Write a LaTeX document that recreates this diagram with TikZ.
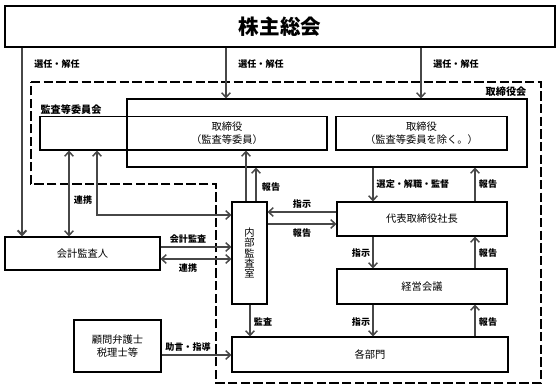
\documentclass[tikz,border=0pt]{standalone}
\usepackage{fontspec}
\setmainfont{Noto Sans CJK JP}
\usetikzlibrary{arrows.meta,calc}
\colorlet{orgLine}{black!72}
\colorlet{orgFrame}{black}
\tikzset{
  orgbox/.style={
    rectangle, draw=orgFrame, line width=0.8pt,
    inner sep=0pt, align=center, font=\fontsize{7.7}{9.6}\selectfont
  },
  orgarrow/.style={-{Straight Barb[length=3.5pt,width=6.5pt]}, line width=1.1pt, draw=orgLine},
  orgboth/.style={{Straight Barb[length=3.5pt,width=6.5pt]}-{Straight Barb[length=3.5pt,width=6.5pt]},
    line width=1.1pt, draw=orgLine},
  orgdash/.style={draw=black, line width=0.8pt, dash pattern=on 7pt off 2.5pt},
  orglabel/.style={font=\fontsize{6.8}{8}\selectfont\bfseries, inner sep=1pt},
  orggroup/.style={font=\fontsize{7.6}{9}\selectfont\bfseries, inner sep=1pt}
}

\begin{document}
\begin{tikzpicture}[x=0.75pt,y=-0.75pt]
  \useasboundingbox (0,0) rectangle (556,385);

  % board of directors frame
  \draw[orgdash] (31,82) -- (541,82) -- (541,383) -- (216,383) -- (216,184) -- (31,184) -- cycle;

  \node[orgbox, minimum width=412.5pt, minimum height=30.75pt,
    font=\fontsize{15.4}{18}\selectfont\bfseries] (soukai) at (280,26.5) {株主総会};
  \node[orgbox, minimum width=300pt, minimum height=51pt] (board) at (327,133) {};
  \node[orgbox, minimum width=215.25pt, minimum height=25.1pt] (kansa) at (183.5,133.25) {};
  \node[orgbox, minimum width=128.25pt, minimum height=25.1pt] (jogai) at (421.5,133.25)
    {取締役\\（監査等委員を除く。）};
  \node[align=center, font=\fontsize{7.7}{9.6}\selectfont] (kansatext) at (227,133.25)
    {取締役\\（監査等委員）};
  \node[orgbox, minimum width=116.25pt, minimum height=24.75pt] (kaikei) at (82.5,253.5) {会計監査人};
  \node[orgbox, minimum width=26.25pt, minimum height=76.5pt,
    font=\fontsize{7.7}{7.8}\selectfont] (naibu) at (249.5,253) {内\\部\\監\\査\\室};
  \node[orgbox, minimum width=127.5pt, minimum height=25.5pt] (shacho) at (422,219) {代表取締役社長};
  \node[orgbox, minimum width=127.5pt, minimum height=26.25pt] (keiei) at (422,286.5) {経営会議};
  \node[orgbox, minimum width=207pt, minimum height=26.25pt] (bumon) at (370,354.5) {各部門};
  \node[orgbox, minimum width=65.25pt, minimum height=39pt] (komon) at (117.5,346)
    {顧問弁護士\\税理士等};

  % columns and rows of the connectors
  \coordinate (colSoukai) at (22,0);
  \coordinate (colRenkei) at (69,0);
  \coordinate (colKansa) at (97,0);
  \coordinate (colBoard) at (226,0);
  \coordinate (colJogai) at (421,0);
  \coordinate (colHokokuA) at (246,0);
  \coordinate (colHokokuB) at (256,0);
  \coordinate (colKansaB) at (250,0);
  \coordinate (colShiji) at (373,0);
  \coordinate (colHokoku) at (475,0);
  \coordinate (rowRenkei) at (0,215);
  \coordinate (rowKaikei) at (0,247);
  \coordinate (rowRenkeiB) at (0,259);
  \coordinate (rowShiji) at (0,212);
  \coordinate (rowHokoku) at (0,224);
  \coordinate (rowJogen) at (0,355);

  \draw[orgarrow, line width=1.5pt] (soukai.south -| colSoukai) -- (kaikei.north -| colSoukai);
  \draw[orgarrow] (soukai.south -| colBoard) -- (board.north -| colBoard);
  \draw[orgarrow] (soukai.south -| colJogai) -- (board.north -| colJogai);

  \draw[orgboth] (kansa.south -| colRenkei) -- (kaikei.north -| colRenkei);
  \draw[orgboth] (kansa.south -| colKansa) |- (naibu.west |- rowRenkei);
  \draw[orgarrow] (kaikei.east |- rowKaikei) -- (naibu.west |- rowKaikei);
  \draw[orgboth] (kaikei.east |- rowRenkeiB) -- (naibu.west |- rowRenkeiB);

  \draw[orgarrow] (naibu.north -| colHokokuA) -- (kansa.south -| colHokokuA);
  \draw[orgarrow] (naibu.north -| colHokokuB) -- (board.south -| colHokokuB);
  \draw[orgarrow] (shacho.west |- rowShiji) -- (naibu.east |- rowShiji);
  \draw[orgarrow] (naibu.east |- rowHokoku) -- (shacho.west |- rowHokoku);
  \draw[orgarrow] (naibu.south -| colKansaB) -- (bumon.north -| colKansaB);

  \draw[orgarrow] (board.south -| colShiji) -- (shacho.north -| colShiji);
  \draw[orgarrow] (shacho.north -| colHokoku) -- (board.south -| colHokoku);
  \draw[orgarrow] (shacho.south -| colShiji) -- (keiei.north -| colShiji);
  \draw[orgarrow] (keiei.north -| colHokoku) -- (shacho.south -| colHokoku);
  \draw[orgarrow] (keiei.south -| colShiji) -- (bumon.north -| colShiji);
  \draw[orgarrow] (bumon.north -| colHokoku) -- (keiei.south -| colHokoku);
  \draw[orgarrow] (komon.east |- rowJogen) -- (bumon.west |- rowJogen);

  \node[orggroup] (lbTorikai) at (506,92) {取締役会};
  \node[orggroup] (lbIinkai) at (71,110) {監査等委員会};
  \node[orglabel] (lbSenninA) at (57,64) {選任・解任};
  \node[orglabel] (lbSenninB) at (261,64) {選任・解任};
  \node[orglabel] (lbSenninC) at (456,64) {選任・解任};
  \node[orglabel] (lbRenkeiA) at (83,200) {連携};
  \node[orglabel] (lbKaikei) at (188,239) {会計監査};
  \node[orglabel] (lbRenkeiB) at (188,268) {連携};
  \node[orglabel] (lbHokokuA) at (271,187) {報告};
  \node[orglabel] (lbShijiA) at (302,204) {指示};
  \node[orglabel] (lbHokokuB) at (302,233) {報告};
  \node[orglabel] (lbSentei) at (413,184) {選定・解職・監督};
  \node[orglabel] (lbHokokuC) at (488,184) {報告};
  \node[orglabel] (lbShijiB) at (361,253) {指示};
  \node[orglabel] (lbHokokuD) at (488,253) {報告};
  \node[orglabel] (lbShijiC) at (361,322) {指示};
  \node[orglabel] (lbHokokuE) at (488,322) {報告};
  \node[orglabel] (lbKansa) at (263,322) {監査};
  \node[orglabel] (lbJogen) at (188,347) {助言・指導};
\end{tikzpicture}
\end{document}
